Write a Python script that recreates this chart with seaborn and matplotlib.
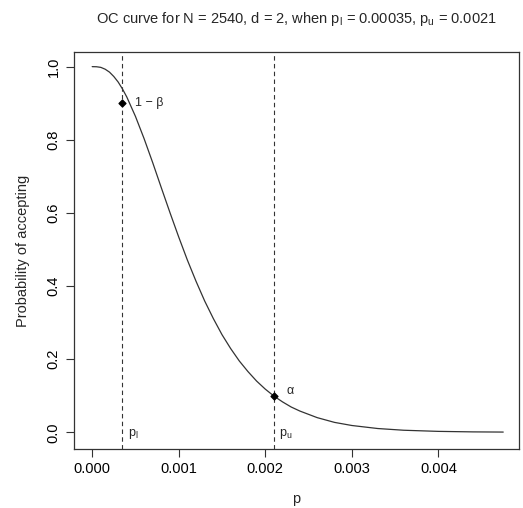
import matplotlib
matplotlib.use("Agg")
import matplotlib.pyplot as plt
import seaborn as sns
import pandas as pd

# OC curve values
p_values = [0.0, 0.00005, 0.0001, 0.00015, 0.0002, 0.00025, 0.0003, 0.00035, 0.0004,
            0.0005, 0.0006, 0.0007, 0.0008, 0.0009, 0.0010, 0.0011, 0.0012, 0.0013,
            0.0014, 0.0015, 0.0016, 0.0017, 0.0018, 0.0019, 0.0020, 0.0021, 0.0022,
            0.0023, 0.0024, 0.0026, 0.0028, 0.0030, 0.0033, 0.0036, 0.0040,
            0.0044, 0.00475]
prob_accept = [1.0, 0.9997, 0.998, 0.993, 0.985, 0.973, 0.958, 0.939, 0.917,
               0.864, 0.803, 0.737, 0.668, 0.600, 0.534, 0.471, 0.413, 0.359,
               0.311, 0.267, 0.229, 0.195, 0.166, 0.140, 0.118, 0.099, 0.083,
               0.069, 0.058, 0.040, 0.027, 0.0185, 0.0102, 0.0055, 0.0024,
               0.0010, 0.0005]

p_lower = 0.00035
p_upper = 0.0021
risk_points = [0.9, 0.1]   # 1 - beta, alpha
x_ticks = [0.0, 0.001, 0.002, 0.003, 0.004]
y_ticks = [0.0, 0.2, 0.4, 0.6, 0.8, 1.0]

df = pd.DataFrame({"p": p_values, "accept": prob_accept})

sns.set_style("white")
plt.rcParams["font.family"] = ["Liberation Sans", "DejaVu Sans"]

fig = plt.figure(figsize=(5.23, 5.08), dpi=100)
ax = fig.add_axes([0.1415, 0.116, 0.8505, 0.7816])

sns.lineplot(data=df, x="p", y="accept", ax=ax, color="#333333", linewidth=0.9)

# limit lines
for pv in [p_lower, p_upper]:
    ax.axvline(pv, color="#333333", linestyle=(0, (4, 3)), linewidth=0.8)

ax.scatter([p_lower, p_upper], risk_points, marker="D", s=12, color="black", zorder=5)
ax.text(p_lower + 0.00014, risk_points[0], "1 \u2212 \u03b2", fontsize=9, va="center")
ax.text(p_upper + 0.00014, risk_points[1] + 0.012, "\u03b1", fontsize=9, va="center")
ax.text(p_lower + 0.00006, -0.005, r"p$_\mathregular{l}$", fontsize=9, va="center")
ax.text(p_upper + 0.00006, -0.005, r"p$_\mathregular{u}$", fontsize=9, va="center")

ax.set_xlim(-0.00021, 0.00493)
ax.set_ylim(-0.046, 1.04)
ax.set_xticks(x_ticks)
ax.set_xticklabels([f"{v:.3f}" for v in x_ticks])
ax.set_yticks(y_ticks)
ax.set_yticklabels([f"{v:.1f}" for v in y_ticks], rotation=90, va="center")
ax.tick_params(direction="out", length=6, width=0.8, colors="#333333",
               labelcolor="black", labelsize=10.5, left=True, bottom=True)
for s in ax.spines.values():
    s.set_color("#333333")
    s.set_linewidth(0.9)

ax.set_xlabel("p", fontsize=10.5, labelpad=11)
ax.set_ylabel("Probability of accepting", fontsize=10.5, labelpad=12)
ax.set_title(r"OC curve for N = 2540, d = 2, when p$_\mathregular{l}$ = 0.00035, "
             r"p$_\mathregular{u}$ = 0.0021", fontsize=10.5, pad=21)

fig.savefig("out.png", dpi=100, facecolor="white")
